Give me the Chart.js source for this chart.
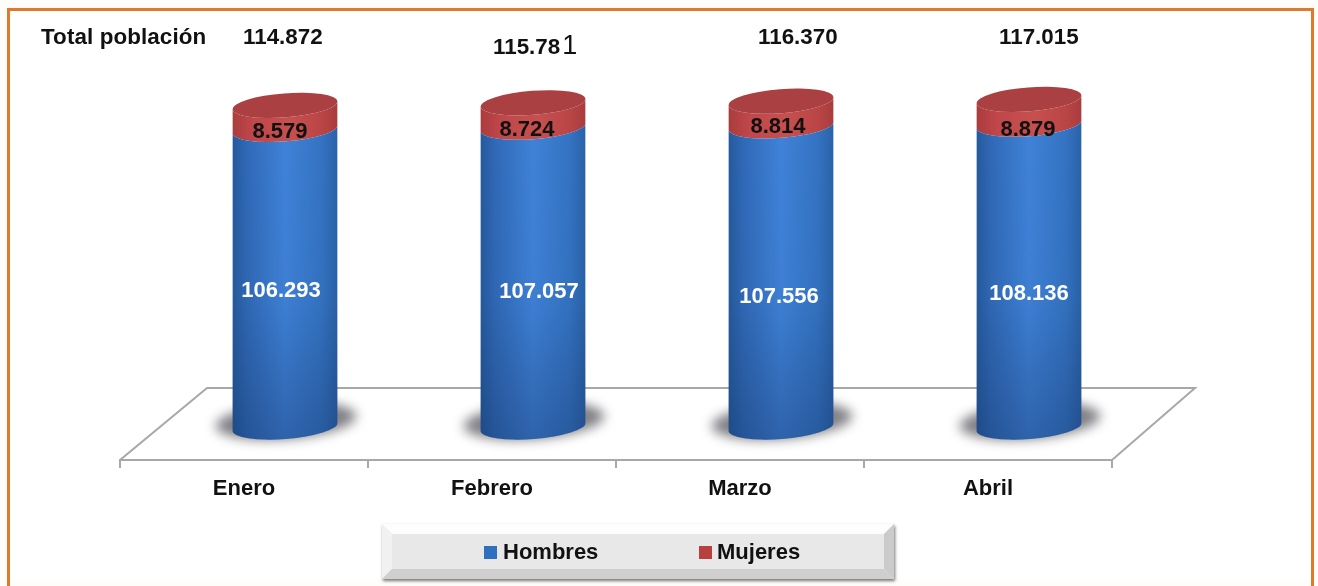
<!DOCTYPE html>
<html>
<head>
<meta charset="utf-8">
<title>Total población</title>
<script src="https://cdn.jsdelivr.net/npm/chart.js@4"></script>
<style>
    html, body { margin: 0; padding: 0; background: #fffdf9; overflow: hidden; }
    canvas { display: block; }
</style>
</head>
<body>
<canvas id="chart" width="1318" height="586"></canvas>
<script>
// Data
const months = ["Enero", "Febrero", "Marzo", "Abril"];
const hombres = [106293, 107057, 107556, 108136];
const mujeres = [8579, 8724, 8814, 8879];
const totalLabels = ["114.872", "115.78", "116.370", "117.015"];
const totalTail = ["", "1", "", ""]; // this digit is set in a thinner, bigger font in the original

const FONT = '"Liberation Sans", Arial, sans-serif';

// The fake 3D depth: bars stand further back than the axis they belong to
const depth = { dx: 41, dy: -33 };
const tilt = -4.4 * Math.PI / 180;
const capHeight = 12;

// Hand nudges for the labels, they are not centred in the original
const hombresNudge = [[-4, 13], [6, 15], [-2, 21], [0, 18]];
const mujeresNudge = [[-5, 3], [-6, 3], [-3, 1], [-1, 6]];
const totalX = [243, 493, 758, 999];
const totalY = [38, 48, 38, 38];

function number(v) {
    return String(v).replace(/(\d)(\d{3})$/, '$1.$2');
}

function sideGradient(ctx, left, right, stops) {
    const g = ctx.createLinearGradient(left, 0, right, 0);
    stops.forEach(s => g.addColorStop(s[0], s[1]));
    return g;
}

const blueStops = [[0, '#245a9c'], [0.14, '#3069b6'], [0.5, '#3f82d8'], [0.85, '#3473c2'], [1, '#2a62a8']];
const redStops = [[0, '#aa3c3e'], [0.2, '#c0474a'], [0.55, '#c6504e'], [0.85, '#ba4545'], [1, '#a93c3e']];

// body of one stack segment, lower edge and upper edge both bulge downwards
function cylinderPath(ctx, cx, yLow, yHigh, rx) {
    ctx.beginPath();
    ctx.ellipse(cx, yLow, rx, capHeight, tilt, 0, Math.PI);
    ctx.ellipse(cx, yHigh, rx, capHeight, tilt, Math.PI, 0, true);
    ctx.closePath();
}

const cylinders = {
    id: 'cylinders',
    beforeDatasetsDraw(chart) {
        const ctx = chart.ctx;
        ctx.save();
        ctx.translate(depth.dx, depth.dy);
        // shadows on the floor
        chart.getDatasetMeta(0).data.forEach(el => {
            ctx.save();
            ctx.filter = 'blur(6px)';
            ctx.fillStyle = '#7f7f84';
            ctx.beginPath();
            ctx.ellipse(el.x + 1, el.base - 6, el.width / 2 + 18, 18, tilt, 0, Math.PI * 2);
            ctx.fill();
            ctx.restore();
        });
        ctx.restore();
    },
    beforeDatasetDraw(chart, args) {
        const ctx = chart.ctx;
        const stops = args.index === 0 ? blueStops : redStops;
        ctx.save();
        ctx.translate(depth.dx, depth.dy);
        args.meta.data.forEach(el => {
            const rx = el.width / 2;
            ctx.fillStyle = sideGradient(ctx, el.x - rx, el.x + rx, stops);
            cylinderPath(ctx, el.x, el.base, el.y, rx);
            ctx.fill();
            if (args.index === 0) {
                // darker towards the floor
                const g = ctx.createLinearGradient(0, el.y, 0, el.base + capHeight);
                g.addColorStop(0, 'rgba(20,50,100,0)');
                g.addColorStop(0.55, 'rgba(20,50,100,0.04)');
                g.addColorStop(1, 'rgba(20,50,100,0.38)');
                ctx.fillStyle = g;
                cylinderPath(ctx, el.x, el.base, el.y, rx);
                ctx.fill();
            } else {
                // top cap
                ctx.fillStyle = '#aa4042';
                ctx.beginPath();
                ctx.ellipse(el.x, el.y, rx, capHeight, tilt, 0, Math.PI * 2);
                ctx.fill();
            }
        });
        ctx.restore();
        return false;
    }
};

const sceneBackdrop = {
    id: 'sceneBackdrop',
    beforeDraw(chart) {
        const ctx = chart.ctx;
        const a = chart.chartArea;
        ctx.save();
        ctx.fillStyle = '#fffdf9';
        ctx.fillRect(0, 0, chart.width, chart.height);
        ctx.fillStyle = '#ffffff';
        ctx.fillRect(9, 10, 1303, 570);
        // frame has no bottom side, it runs off the picture
        ctx.strokeStyle = '#e07a2b';
        ctx.lineWidth = 3;
        ctx.beginPath();
        ctx.moveTo(8.5, 586);
        ctx.lineTo(8.5, 9.5);
        ctx.lineTo(1312.5, 9.5);
        ctx.lineTo(1312.5, 586);
        ctx.stroke();
        // floor
        ctx.strokeStyle = '#a8a8a8';
        ctx.lineWidth = 2;
        ctx.beginPath();
        ctx.moveTo(a.left, a.bottom);
        ctx.lineTo(a.left + 87, a.bottom + 2 * depth.dy + -6);
        ctx.lineTo(a.right + 83, a.bottom + 2 * depth.dy + -6);
        ctx.lineTo(a.right, a.bottom);
        ctx.stroke();
        ctx.restore();
    }
};

const valueLabels = {
    id: 'valueLabels',
    afterDatasetsDraw(chart) {
        const ctx = chart.ctx;
        ctx.save();
        ctx.textAlign = 'center';
        ctx.textBaseline = 'middle';
        ctx.font = 'bold 22px ' + FONT;
        chart.getDatasetMeta(0).data.forEach((el, i) => {
            ctx.fillStyle = '#ffffff';
            ctx.fillText(number(hombres[i]), el.x + depth.dx + hombresNudge[i][0], (el.y + el.base) / 2 + depth.dy + hombresNudge[i][1]);
        });
        chart.getDatasetMeta(1).data.forEach((el, i) => {
            ctx.fillStyle = '#111111';
            ctx.fillText(number(mujeres[i]), el.x + depth.dx + mujeresNudge[i][0], el.base + depth.dy + mujeresNudge[i][1]);
        });
        // totals row
        ctx.fillStyle = '#111111';
        ctx.textAlign = 'left';
        ctx.font = 'bold 22.4px ' + FONT;
        totalLabels.forEach((t, i) => {
            ctx.fillText(t, totalX[i], totalY[i]);
            if (totalTail[i]) {
                const w = ctx.measureText(t).width;
                ctx.save();
                ctx.font = '27px ' + FONT;
                ctx.fillText(totalTail[i], totalX[i] + w + 2, totalY[i] - 1);
                ctx.restore();
            }
        });
        ctx.letterSpacing = '0.1px';
        ctx.fillText('Total población', 41, 38);
        ctx.restore();
    }
};

const bevelLegend = {
    id: 'bevelLegend',
    afterDraw(chart) {
        const ctx = chart.ctx;
        const x = 382, y = 524, w = 512, h = 55, b = 10;
        ctx.save();
        ctx.shadowColor = 'rgba(60,60,60,0.7)';
        ctx.shadowBlur = 3;
        ctx.shadowOffsetY = 2;
        ctx.shadowOffsetX = 1;
        ctx.fillStyle = '#e8e8e8';
        ctx.fillRect(x, y, w, h);
        ctx.restore();
        ctx.save();
        const side = (pts, color) => {
            ctx.fillStyle = color;
            ctx.beginPath();
            pts.forEach((p, i) => i ? ctx.lineTo(p[0], p[1]) : ctx.moveTo(p[0], p[1]));
            ctx.closePath();
            ctx.fill();
        };
        side([[x, y], [x + w, y], [x + w - b, y + b], [x + b, y + b]], '#fdfdfd');
        side([[x, y], [x + b, y + b], [x + b, y + h - b], [x, y + h]], '#f1f1f1');
        side([[x + w, y], [x + w - b, y + b], [x + w - b, y + h - b], [x + w, y + h]], '#cbcbcb');
        side([[x, y + h], [x + b, y + h - b], [x + w - b, y + h - b], [x + w, y + h]], '#cfcfcf');
        ctx.font = 'bold 22px ' + FONT;
        ctx.textBaseline = 'middle';
        ctx.textAlign = 'left';
        const keys = [[484, 503], [699, 717]];
        chart.data.datasets.forEach((ds, i) => {
            ctx.fillStyle = ds.backgroundColor;
            ctx.fillRect(keys[i][0], 546, 13, 13);
            ctx.fillStyle = '#111111';
            ctx.fillText(ds.label, keys[i][1], 553);
        });
        ctx.restore();
    }
};

new Chart(document.getElementById('chart'), {
    type: 'bar',
    data: {
        labels: months,
        datasets: [
            { label: 'Hombres', data: hombres, backgroundColor: '#2f6fbe', barThickness: 105 },
            { label: 'Mujeres', data: mujeres, backgroundColor: '#b8403f', barThickness: 105 }
        ]
    },
    options: {
        responsive: false,
        animation: false,
        layout: { padding: { left: 120, right: 206, top: 40, bottom: 90 } },
        plugins: { legend: { display: false }, tooltip: { enabled: false } },
        scales: {
            x: {
                stacked: true,
                afterFit(scale) { scale.height = 36; },
                border: { color: '#a8a8a8', width: 2 },
                grid: { drawOnChartArea: false, color: '#a8a8a8', lineWidth: 2, tickLength: 8 },
                ticks: {
                    color: '#111111',
                    padding: 8,
                    maxRotation: 0,
                    font: { family: FONT, size: 22, weight: 'bold' }
                }
            },
            y: {
                stacked: true,
                display: false,
                min: 0,
                max: 150000
            }
        }
    },
    plugins: [sceneBackdrop, cylinders, valueLabels, bevelLegend]
});
</script>
</body>
</html>
